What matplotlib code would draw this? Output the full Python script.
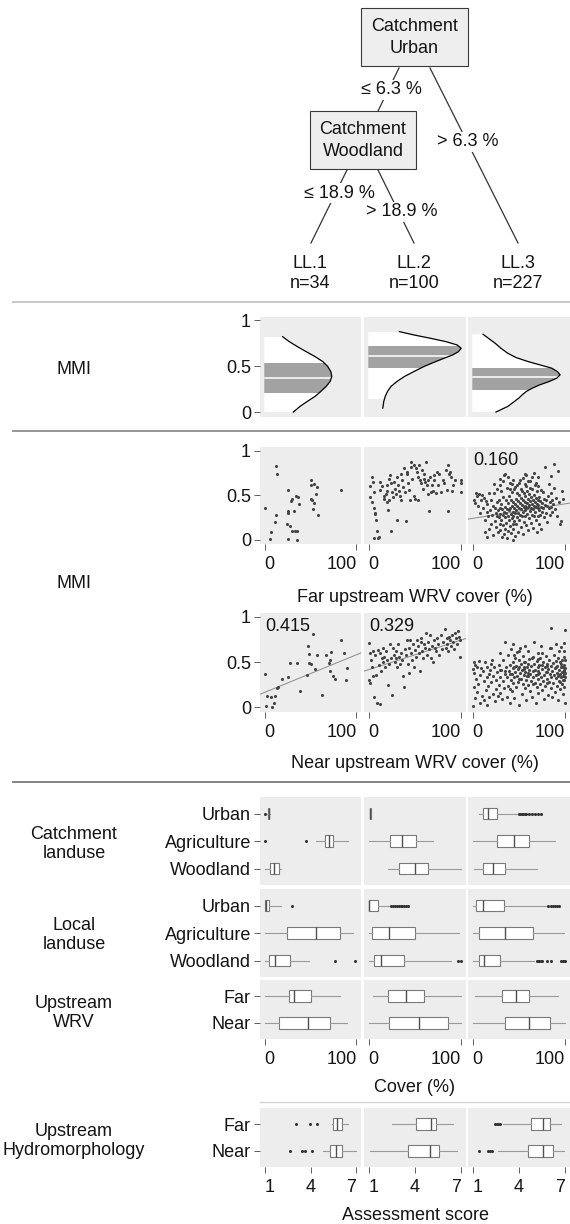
import numpy as np
import matplotlib
matplotlib.use('Agg')
import matplotlib.pyplot as plt
from matplotlib.patches import Rectangle, Polygon

# ---- tree ----
urban_split = 6.3
woodland_split = 18.9
leaf_names = ['LL.1', 'LL.2', 'LL.3']
leaf_n = [34, 100, 227]

# ---- MMI per leaf: range, quartiles (q1, median, q3) and density outline ----
mmi_range = [(0.0, 0.82), (0.14, 0.87), (0.0, 0.845)]
mmi_quart = [(0.21, 0.375, 0.53), (0.48, 0.61, 0.72), (0.24, 0.385, 0.48)]
dens1_y = [0.819, 0.765, 0.711, 0.657, 0.603, 0.549, 0.495, 0.440, 0.386, 0.332, 0.278, 0.224, 0.170, 0.116, 0.061, 0.0]
dens1_w = [0.182, 0.248, 0.328, 0.414, 0.503, 0.579, 0.629, 0.659, 0.669, 0.652, 0.613, 0.560, 0.503, 0.427, 0.354, 0.288]
dens2_y = [0.874, 0.838, 0.801, 0.765, 0.729, 0.693, 0.657, 0.621, 0.585, 0.549, 0.495, 0.440, 0.386, 0.332, 0.278, 0.224, 0.170, 0.116, 0.043]
dens2_w = [0.305, 0.447, 0.613, 0.762, 0.871, 0.911, 0.884, 0.828, 0.745, 0.662, 0.546, 0.447, 0.354, 0.281, 0.222, 0.189, 0.166, 0.152, 0.142]
dens3_y = [0.845, 0.801, 0.747, 0.693, 0.639, 0.592, 0.549, 0.513, 0.477, 0.440, 0.404, 0.368, 0.332, 0.296, 0.260, 0.224, 0.188, 0.152, 0.116, 0.061, 0.0]
dens3_w = [0.106, 0.159, 0.225, 0.281, 0.348, 0.430, 0.546, 0.662, 0.778, 0.834, 0.861, 0.828, 0.755, 0.662, 0.589, 0.530, 0.490, 0.457, 0.414, 0.348, 0.232]

# ---- MMI vs far upstream WRV cover ----
far1_x = [0, 12, 14, 12, 11, 6.5, 5.4, 25, 25, 26, 30, 29, 32, 34, 37, 36, 24, 28, 30, 33, 35, 26, 35,
          50, 51, 54, 56, 50, 52, 54, 57, 58, 83, 53]
far1_y = [0.35, 0.83, 0.74, 0.28, 0.20, 0.09, 0.01, 0.56, 0.32, 0.30, 0.46, 0.43, 0.32, 0.49, 0.40, 0.48,
          0.17, 0.15, 0.10, 0.10, 0.10, 0.01, 0.0, 0.67, 0.61, 0.62, 0.51, 0.46, 0.44, 0.41, 0.59, 0.28, 0.56, 0.34]
far2_x = [3.6, 4.7, 5.5, 6.2, 7.3, 7.3, 8.4, 9.1, 10.2, 10.9, 12.7, 12.7, 14.5, 16.4, 17.1, 18.2, 19.3, 20, 20, 20.7,
          21.8, 21.8, 22.9, 23.6, 24.4, 25.5, 26.5, 27.3, 28.4, 29.1, 30.2, 30.9, 31.6, 32.7, 33.8, 34.5, 35.3, 36.4, 37.5, 38.2,
          38.9, 40, 41.1, 41.8, 42.5, 43.6, 44.7, 45.5, 46.2, 47.3, 48.4, 49.1, 49.8, 50.9, 52, 52.7, 53.5, 54.5, 55.6, 56.4,
          57.1, 58.2, 59.3, 60, 60.7, 61.8, 62.9, 63.6, 64.4, 65.5, 66.5, 67.3, 68, 69.1, 70.2, 70.9, 72.7, 73.8, 75.3, 76.4,
          78.2, 80, 81.8, 83.6, 84.7, 85.5, 86.2, 87.3, 88.4, 85.5, 89.8, 90.9, 92.7, 99.3, 99.3, 99.3, 2, 1.8, 3.6, 5.5]
far2_y = [0.70, 0.65, 0.53, 0.36, 0.30, 0.29, 0.22, 0.10, 0.02, 0.03, 0.65, 0.56, 0.60, 0.49, 0.46, 0.51, 0.55, 0.61, 0.42, 0.33,
          0.44, 0.68, 0.72, 0.10, 0.63, 0.53, 0.48, 0.65, 0.57, 0.51, 0.70, 0.22, 0.61, 0.55, 0.49, 0.74, 0.44, 0.67, 0.59, 0.80,
          0.53, 0.21, 0.74, 0.76, 0.63, 0.56, 0.44, 0.82, 0.87, 0.68, 0.84, 0.49, 0.46, 0.80, 0.76, 0.44, 0.70, 0.84, 0.67, 0.63,
          0.78, 0.57, 0.74, 0.68, 0.65, 0.87, 0.61, 0.51, 0.67, 0.32, 0.70, 0.53, 0.61, 0.55, 0.72, 0.67, 0.52, 0.76, 0.61, 0.74,
          0.53, 0.67, 0.63, 0.78, 0.56, 0.84, 0.74, 0.76, 0.70, 0.32, 0.55, 0.61, 0.67, 0.67, 0.63, 0.53, 0.60, 0.48, 0.42, 0.02]
far3_x = [2, 3, 4, 5, 6, 7, 8, 9, 10, 11, 12, 13, 13, 14, 15, 15, 16, 17, 18, 18,
          19, 20, 20, 21, 22, 22, 23, 24, 24, 25, 25, 26, 26, 27, 27, 28, 28, 29, 29, 30,
          30, 30, 31, 31, 32, 32, 33, 33, 33, 34, 34, 34, 35, 35, 35, 36, 36, 36, 37, 37,
          37, 38, 38, 38, 39, 39, 39, 40, 40, 40, 41, 41, 41, 42, 42, 42, 43, 43, 43, 44,
          44, 44, 45, 45, 45, 46, 46, 46, 47, 47, 47, 48, 48, 48, 49, 49, 49, 50, 50, 50,
          51, 51, 51, 52, 52, 52, 53, 53, 53, 54, 54, 54, 55, 55, 55, 56, 56, 56, 57, 57,
          57, 58, 58, 58, 59, 59, 59, 60, 60, 60, 61, 61, 61, 62, 62, 62, 63, 63, 63, 64,
          64, 64, 65, 65, 65, 66, 66, 66, 67, 67, 67, 68, 68, 68, 69, 69, 69, 70, 70, 70,
          71, 71, 72, 72, 72, 73, 73, 74, 74, 74, 75, 75, 76, 76, 77, 77, 78, 78, 79, 79,
          80, 80, 81, 82, 82, 83, 83, 84, 85, 85, 86, 86, 87, 88, 88, 89, 90, 91, 92, 93,
          94, 95, 96, 97, 23, 26, 29, 31, 33, 35, 38, 40, 42, 44, 46, 48, 50, 52, 54, 56,
          58, 60, 62, 64, 66, 68, 70]
far3_y = [0.44, 0.41, 0.52, 0.49, 0.38, 0.51, 0.30, 0.45, 0.50, 0.36, 0.47, 0.22, 0.08, 0.43, 0.31, 0.03, 0.40, 0.26, 0.52, 0.12,
          0.33, 0.45, 0.18, 0.28, 0.38, 0.05, 0.62, 0.21, 0.35, 0.30, 0.14, 0.42, 0.27, 0.33, 0.08, 0.25, 0.45, 0.36, 0.18, 0.68,
          0.29, 0.11, 0.40, 0.22, 0.34, 0.03, 0.28, 0.48, 0.16, 0.72, 0.31, 0.06, 0.37, 0.25, 0.12, 0.44, 0.30, 0.19, 0.58, 0.34,
          0.02, 0.27, 0.41, 0.10, 0.33, 0.22, 0.49, 0.36, 0.15, 0.63, 0.29, 0.44, 0.07, 0.38, 0.24, 0.53, 0.31, 0.18, 0.00, 0.42,
          0.27, 0.12, 0.35, 0.57, 0.21, 0.40, 0.30, 0.04, 0.46, 0.33, 0.17, 0.38, 0.25, 0.61, 0.43, 0.30, 0.09, 0.36, 0.50, 0.22,
          0.41, 0.28, 0.67, 0.34, 0.47, 0.14, 0.39, 0.26, 0.55, 0.31, 0.44, 0.06, 0.37, 0.52, 0.20, 0.42, 0.33, 0.74, 0.38, 0.27,
          0.49, 0.35, 0.60, 0.16, 0.41, 0.29, 0.54, 0.46, 0.37, 0.11, 0.39, 0.51, 0.24, 0.43, 0.32, 0.66, 0.36, 0.48, 0.19, 0.40,
          0.28, 0.57, 0.45, 0.34, 0.13, 0.38, 0.50, 0.26, 0.42, 0.61, 0.31, 0.37, 0.47, 0.22, 0.40, 0.55, 0.08, 0.35, 0.44, 0.27,
          0.39, 0.70, 0.33, 0.48, 0.18, 0.43, 0.28, 0.37, 0.56, 0.12, 0.41, 0.31, 0.36, 0.53, 0.46, 0.25, 0.39, 0.82, 0.30, 0.44,
          0.38, 0.20, 0.49, 0.35, 0.62, 0.42, 0.28, 0.52, 0.37, 0.71, 0.45, 0.31, 0.40, 0.85, 0.58, 0.34, 0.47, 0.26, 0.77, 0.42,
          0.17, 0.21, 0.55, 0.46, 0.52, 0.57, 0.61, 0.54, 0.66, 0.74, 0.70, 0.57, 0.62, 0.67, 0.59, 0.52, 0.64, 0.57, 0.69, 0.62,
          0.72, 0.66, 0.58, 0.70, 0.75, 0.64, 0.60]

# ---- MMI vs near upstream WRV cover ----
near1_x = [0, 3, 6.5, 11, 2, 8, 10, 14.5, 14, 19, 25, 28, 35, 39, 47, 48, 48, 46, 53, 55, 57, 63,
           67, 70, 71, 71, 72, 75, 77, 83, 87, 89, 90, 50]
near1_y = [0.37, 0.13, 0.12, 0.13, 0.02, 0.01, 0.05, 0.23, 0.21, 0.31, 0.34, 0.49, 0.49, 0.18, 0.68, 0.49,
           0.59, 0.36, 0.81, 0.42, 0.58, 0.14, 0.58, 0.49, 0.52, 0.40, 0.61, 0.35, 0.31, 0.74, 0.60, 0.30, 0.43, 0.48]
near2_x = [0, 0, 1, 2, 3, 4, 5, 5, 6, 7, 8, 9, 10, 11, 12, 12, 13, 14, 15, 16,
           17, 18, 19, 20, 21, 22, 23, 24, 25, 26, 27, 28, 29, 30, 31, 32, 33, 34, 35, 36,
           37, 38, 39, 40, 41, 42, 43, 44, 45, 46, 47, 48, 49, 50, 51, 52, 53, 54, 55, 56,
           57, 58, 59, 60, 61, 62, 63, 64, 65, 66, 67, 68, 69, 70, 72, 73, 74, 75, 76, 78,
           79, 80, 82, 83, 84, 85, 86, 87, 88, 89, 90, 91, 92, 93, 94, 95, 96, 97, 98, 99]
near2_y = [0.71, 0.30, 0.27, 0.60, 0.52, 0.44, 0.62, 0.35, 0.12, 0.58, 0.36, 0.05, 0.63, 0.47, 0.04, 0.60, 0.40, 0.55, 0.65, 0.50,
           0.56, 0.44, 0.62, 0.52, 0.25, 0.48, 0.70, 0.55, 0.14, 0.66, 0.58, 0.50, 0.62, 0.54, 0.45, 0.70, 0.56, 0.48, 0.60, 0.52,
           0.35, 0.22, 0.64, 0.58, 0.74, 0.48, 0.66, 0.38, 0.74, 0.60, 0.52, 0.70, 0.45, 0.63, 0.56, 0.74, 0.68, 0.60, 0.40, 0.72,
           0.76, 0.62, 0.55, 0.70, 0.66, 0.82, 0.58, 0.72, 0.64, 0.80, 0.54, 0.68, 0.50, 0.74, 0.66, 0.62, 0.77, 0.70, 0.58, 0.80,
           0.64, 0.72, 0.86, 0.66, 0.76, 0.70, 0.62, 0.78, 0.74, 0.68, 0.80, 0.72, 0.64, 0.82, 0.76, 0.70, 0.84, 0.78, 0.56, 0.74]
near3_x = [0, 0, 1, 1, 2, 3, 3, 4, 5, 5, 6, 7, 8, 8, 9, 10, 11, 12, 12, 13,
           14, 15, 15, 16, 17, 18, 18, 19, 20, 21, 22, 22, 23, 24, 25, 25, 26, 27, 28, 28,
           29, 30, 30, 31, 32, 33, 33, 34, 35, 35, 36, 37, 37, 38, 38, 39, 40, 40, 41, 41,
           42, 42, 43, 43, 44, 44, 45, 45, 46, 46, 47, 47, 48, 48, 49, 49, 50, 50, 51, 51,
           52, 52, 53, 53, 54, 54, 55, 55, 56, 56, 57, 57, 58, 58, 59, 59, 60, 60, 61, 61,
           62, 62, 63, 63, 64, 64, 65, 65, 66, 66, 67, 67, 68, 68, 69, 69, 70, 70, 71, 71,
           72, 72, 73, 73, 74, 74, 75, 75, 76, 76, 77, 77, 78, 78, 79, 79, 80, 80, 81, 81,
           82, 82, 83, 83, 84, 84, 85, 85, 86, 86, 87, 87, 88, 88, 89, 89, 90, 90, 90, 91,
           91, 91, 92, 92, 92, 93, 93, 93, 94, 94, 94, 95, 95, 95, 96, 96, 96, 97, 97, 97,
           98, 98, 98, 99, 99, 99, 99, 100, 100, 100, 100, 100, 100, 99, 98, 97, 96, 95, 94, 93,
           45, 50, 55, 60, 65, 70, 75, 80, 85, 90, 35, 40, 45, 50, 55, 60, 65, 70, 75, 80,
           20, 30, 40, 50, 60, 70, 80]
near3_y = [0.42, 0.02, 0.50, 0.22, 0.38, 0.47, 0.10, 0.31, 0.44, 0.17, 0.26, 0.51, 0.36, 0.05, 0.43, 0.13, 0.40, 0.29, 0.08, 0.50,
           0.19, 0.33, 0.03, 0.45, 0.24, 0.37, 0.11, 0.41, 0.28, 0.52, 0.15, 0.35, 0.44, 0.07, 0.30, 0.20, 0.39, 0.13, 0.47, 0.25,
           0.34, 0.60, 0.16, 0.41, 0.09, 0.29, 0.52, 0.21, 0.37, 0.72, 0.45, 0.12, 0.33, 0.58, 0.24, 0.40, 0.05, 0.47, 0.30, 0.64,
           0.37, 0.18, 0.50, 0.27, 0.43, 0.70, 0.33, 0.10, 0.55, 0.39, 0.22, 0.46, 0.35, 0.61, 0.28, 0.42, 0.52, 0.03, 0.38, 0.66,
           0.31, 0.48, 0.15, 0.41, 0.57, 0.26, 0.44, 0.36, 0.21, 0.68, 0.39, 0.50, 0.30, 0.08, 0.45, 0.35, 0.62, 0.25, 0.41, 0.53,
           0.18, 0.37, 0.46, 0.29, 0.55, 0.12, 0.40, 0.33, 0.72, 0.48, 0.27, 0.41, 0.36, 0.05, 0.51, 0.22, 0.44, 0.31, 0.60, 0.16,
           0.38, 0.47, 0.26, 0.55, 0.33, 0.68, 0.42, 0.19, 0.50, 0.29, 0.36, 0.09, 0.45, 0.24, 0.39, 0.57, 0.31, 0.48, 0.14, 0.42,
           0.52, 0.28, 0.37, 0.65, 0.21, 0.46, 0.34, 0.88, 0.40, 0.11, 0.49, 0.27, 0.36, 0.58, 0.17, 0.43, 0.32, 0.51, 0.70, 0.38,
           0.24, 0.46, 0.55, 0.35, 0.08, 0.41, 0.29, 0.62, 0.37, 0.50, 0.20, 0.44, 0.33, 0.67, 0.39, 0.52, 0.26, 0.35, 0.45, 0.15,
           0.40, 0.30, 0.56, 0.37, 0.47, 0.23, 0.62, 0.43, 0.33, 0.05, 0.52, 0.38, 0.85, 0.71, 0.41, 0.30, 0.44, 0.48, 0.28, 0.36,
           0.58, 0.62, 0.50, 0.48, 0.56, 0.53, 0.60, 0.46, 0.66, 0.45, 0.40, 0.37, 0.44, 0.31, 0.42, 0.38, 0.26, 0.37, 0.47, 0.27,
           0.48, 0.41, 0.20, 0.45, 0.35, 0.40, 0.39]

# fitted lines (intercept, slope) and their labels, per leaf
far_fit = [None, None, (0.238, 0.00164)]
far_fit_label = [None, None, '0.160']
near_fit = [(0.166, 0.00414), (0.416, 0.00327), None]
near_fit_label = ['0.415', '0.329', None]

# ---- box plot summaries per leaf: (whisker low, q1, median, q3, whisker high) ----
landuse_cats = ['Urban', 'Agriculture', 'Woodland']
catch_urban = [(3, 3.5, 4.5, 5, 6), (1, 1.5, 2, 2.5, 3), (7.3, 10.9, 17.1, 26.2, 48)]
catch_urban_out = [[0.5], [], [50, 51.5, 53, 54.5, 56, 57.5, 61, 64, 67.5, 71, 73.5]]
catch_agri = [(56.2, 65.3, 70, 74.8, 90.9), (0, 22.9, 36.4, 50.9, 69.1), (0.7, 26.2, 45.1, 60.7, 88.7)]
catch_agri_out = [[0.3, 45.3], [], []]
catch_wood = [(0.7, 6.2, 10.6, 15.3, 18.2), (20.7, 32.7, 49.8, 64.4, 99.3), (1.5, 11.6, 21.8, 35.3, 69.1)]
catch_wood_out = [[], [], []]

local_urban = [(0, 0, 1.5, 4.5, 18), (0, 0, 0.7, 10.2, 23.6), (0.7, 3.6, 11.6, 33.5, 80.7)]
local_urban_out = [[30], [24.5, 26.5, 28.5, 30.5, 32.5, 34.5, 36.5, 38.5, 40.5, 42], [81.5, 84, 86.5, 89, 91.5, 93.5]]
local_agri = [(0, 24.5, 56.2, 82.1, 96.7), (0, 3.6, 22.2, 50.2, 97.1), (0, 7.3, 34.5, 65.5, 98)]
local_agri_out = [[], [], []]
local_wood = [(0, 5.1, 10.9, 28.1, 48.9), (0.7, 5.5, 13.8, 38.2, 88.4), (0.7, 6.5, 12.7, 29.8, 66.2)]
local_wood_out = [[76.6, 98.2], [96.4, 99.3], [69, 70.5, 72, 73.5, 75, 80, 84.5, 95.5, 97, 98.5, 100]]

dist_cats = ['Far', 'Near']
wrv_far = [(0, 26.3, 31.8, 50.7, 81.8), (4.4, 20.7, 40.7, 59.3, 100), (2.5, 31.6, 47.3, 60.7, 92.4)]
wrv_near = [(0, 15.3, 47.4, 71.2, 90.1), (0, 21.8, 53.8, 85.5, 100), (0, 34.5, 60.7, 83.6, 100)]
no_out = [[], [], []]

hydro_far = [(5.41, 5.48, 5.72, 6.03, 6.43), (2.49, 4.08, 5.03, 5.39, 6.45), (2.95, 4.78, 5.54, 6.02, 6.69)]
hydro_far_out = [[3.04, 3.94, 4.42], [], [2.45, 2.55, 2.65, 2.75]]
hydro_near = [(4.84, 5.29, 5.65, 6.07, 6.97), (1.12, 3.56, 4.96, 5.58, 6.69), (2.67, 4.61, 5.57, 6.21, 6.88)]
hydro_near_out = [[2.68, 3.42, 3.65, 4.13], [], [1.43, 2.02, 2.12, 2.26]]


W, H = 570, 1224
FS = 13
PANEL_BG = '#ededed'
TXT = '#141414'
plt.rcParams['font.family'] = ['Liberation Sans', 'DejaVu Sans']
plt.rcParams['font.size'] = FS

fig = plt.figure(figsize=(W / 100, H / 100), dpi=100)
cols = [(260, 361), (364, 466), (468, 570)]


def px_axes(x0, y0, x1, y1):
    return fig.add_axes([x0 / W, 1 - y1 / H, (x1 - x0) / W, (y1 - y0) / H])


def style_panel(ax, left, bottom):
    ax.set_facecolor(PANEL_BG)
    for s in ax.spines.values():
        s.set_visible(False)
    ax.tick_params(axis='y', length=4, width=0.6, color='#444', labelcolor=TXT, pad=2.5, labelsize=FS)
    ax.tick_params(axis='x', length=4, width=0.6, color='#444', labelcolor=TXT, pad=4.5, labelsize=FS)
    if not left:
        ax.tick_params(axis='y', left=False, labelleft=False)
    if not bottom:
        ax.tick_params(axis='x', bottom=False, labelbottom=False)


def set_xticks_edge(ax, ticks):
    # outer labels are pushed inward so neighbouring panels don't collide
    ax.set_xticks(ticks, [str(t) for t in ticks])
    for t in ax.xaxis.get_major_ticks():
        t.label1.set_ha('center')
    major = ax.xaxis.get_major_ticks()
    major[0].label1.set_ha('left')
    major[len(ticks) - 1].label1.set_ha('right')


# overlay in pixel units for tree, separators and section labels
ov = fig.add_axes([0, 0, 1, 1])
ov.set_xlim(0, W)
ov.set_ylim(H, 0)
ov.axis('off')

edge_kw = dict(color='#333333', lw=0.9)
lab_kw = dict(ha='center', va='center', color=TXT,
              bbox=dict(boxstyle='square,pad=0.1', fc='white', ec='none'))

ov.plot([399, 378], [68, 111], **edge_kw)
ov.plot([430, 518], [68, 243], **edge_kw)
ov.plot([347, 311], [170, 243], **edge_kw)
ov.plot([378, 414], [170, 243], **edge_kw)
ov.add_patch(Rectangle((361, 8), 107, 58, fc='#eeeeee', ec='#3a3a3a', lw=0.8))
ov.add_patch(Rectangle((310, 111), 106, 58, fc='#eeeeee', ec='#3a3a3a', lw=0.8))
ov.text(414.5, 37.5, 'Catchment\nUrban', ha='center', va='center', color=TXT, linespacing=1.4)
ov.text(363, 140.5, 'Catchment\nWoodland', ha='center', va='center', color=TXT, linespacing=1.4)
ov.text(391, 90, f'\u2264 {urban_split} %', **lab_kw)
ov.text(468, 142, f'> {urban_split} %', **lab_kw)
ov.text(339, 193, f'\u2264 {woodland_split} %', **lab_kw)
ov.text(402, 212, f'> {woodland_split} %', **lab_kw)
for xc, name, n in zip([310, 414, 518], leaf_names, leaf_n):
    ov.text(xc, 264, name, ha='center', va='center', color=TXT)
    ov.text(xc, 284, f'n={n}', ha='center', va='center', color=TXT)

ov.plot([13, 570], [302, 302], color='#c4c4c4', lw=1.3)
ov.plot([13, 570], [431, 431], color='#8c8c8c', lw=1.3)
ov.plot([13, 570], [782, 782], color='#7a7a7a', lw=1.3)
ov.plot([260, 570], [1102, 1102], color='#d6d6d6', lw=1.0)

for y, txt in [(369, 'MMI'), (583, 'MMI'), (844, 'Catchment\nlanduse'), (935, 'Local\nlanduse'),
               (1013, 'Upstream\nWRV'), (1141, 'Upstream\nHydromorphology')]:
    ov.text(74, y, txt, ha='center', va='center', color=TXT, linespacing=1.1)
for y, txt in [(597, 'Far upstream WRV cover (%)'), (763, 'Near upstream WRV cover (%)'),
               (1087, 'Cover (%)'), (1216, 'Assessment score')]:
    ov.text(415, y, txt, ha='center', va='center', color=TXT)

# ---- MMI density panels ----
dens_y = [dens1_y, dens2_y, dens3_y]
dens_w = [dens1_w, dens2_w, dens3_w]
for j, (x0, x1) in enumerate(cols):
    ax = px_axes(x0, 317, x1, 417)
    style_panel(ax, j == 0, False)
    ax.set_xlim(-0.042, 0.958)
    ax.set_ylim(-0.054, 1.033)
    ax.set_yticks([0, 0.5, 1], ['0', '0.5', '1'])
    ys, ws = dens_y[j], dens_w[j]
    outline = Polygon([(0, ys[0])] + list(zip(ws, ys)) + [(0, ys[-1])], closed=True,
                      transform=ax.transData)
    lo, hi = mmi_range[j]
    q1, med, q3 = mmi_quart[j]
    white = ax.add_patch(Rectangle((0, lo), 1.5, hi - lo, fc='white', ec='none'))
    band = ax.add_patch(Rectangle((0, q1), 1.5, q3 - q1, fc='#a2a2a2', ec='none'))
    mline, = ax.plot([0, 1.5], [med, med], color='#f2f2f2', lw=1.3)
    for art in (white, band, mline):
        art.set_clip_path(outline)
    ax.plot(ws, ys, color='black', lw=0.9)


# ---- scatter panels ----
def scatter_row(top, bottom, xs, ys, fits, labels):
    for j, (x0, x1) in enumerate(cols):
        ax = px_axes(x0, top, x1, bottom)
        style_panel(ax, j == 0, True)
        ax.set_xlim(-5, 105)
        ax.set_ylim(-0.05, 1.04)
        set_xticks_edge(ax, [0, 100])
        ax.set_yticks([0, 0.5, 1], ['0', '0.5', '1'])
        ax.scatter(xs[j], ys[j], s=5, c='#444444', linewidths=0, zorder=3)
        if fits[j] is not None:
            a, b = fits[j]
            lx = np.array([-5, 105])
            ax.plot(lx, a + b * lx, color='#8a8a8a', lw=0.7, zorder=2)
        if labels[j] is not None:
            ax.text(0.05, 0.86, labels[j], transform=ax.transAxes, ha='left', va='center',
                    color=TXT, fontsize=FS, zorder=4)


scatter_row(447, 544, [far1_x, far2_x, far3_x], [far1_y, far2_y, far3_y], far_fit, far_fit_label)
scatter_row(613, 712, [near1_x, near2_x, near3_x], [near1_y, near2_y, near3_y], near_fit, near_fit_label)


# ---- box plot panels ----
def box_row(top, bottom, cats, boxes, outs, xlim, xticks, show_x):
    n = len(cats)
    for j, (x0, x1) in enumerate(cols):
        ax = px_axes(x0, top, x1, bottom)
        style_panel(ax, j == 0, show_x)
        stats = []
        for b, o in zip(boxes, outs):
            lo, q1, med, q3, hi = b[j]
            stats.append(dict(whislo=lo, q1=q1, med=med, q3=q3, whishi=hi, fliers=o[j]))
        ax.bxp(stats, positions=list(range(1, n + 1)), orientation='horizontal', widths=0.42,
               showcaps=False, patch_artist=True, manage_ticks=False,
               boxprops=dict(facecolor='white', edgecolor='#7a7a7a', lw=0.8),
               medianprops=dict(color='#505050', lw=1.0),
               whiskerprops=dict(color='#9a9a9a', lw=0.8),
               flierprops=dict(marker='o', markersize=2.2, markerfacecolor='#333333',
                               markeredgecolor='none'))
        ax.set_ylim(n + 0.6, 0.4)
        ax.set_xlim(*xlim)
        ax.set_yticks(list(range(1, n + 1)), cats)
        if show_x:
            set_xticks_edge(ax, xticks)


box_row(797, 885, landuse_cats, [catch_urban, catch_agri, catch_wood],
        [catch_urban_out, catch_agri_out, catch_wood_out], (-5, 105), [0, 100], False)
box_row(889, 977, landuse_cats, [local_urban, local_agri, local_wood],
        [local_urban_out, local_agri_out, local_wood_out], (-5, 105), [0, 100], False)
box_row(980, 1039, dist_cats, [wrv_far, wrv_near], [no_out, no_out], (-5, 105), [0, 100], True)
box_row(1108, 1167, dist_cats, [hydro_far, hydro_near], [hydro_far_out, hydro_near_out],
        (0.7, 7.3), [1, 4, 7], True)

fig.savefig('out.png', dpi=100)
